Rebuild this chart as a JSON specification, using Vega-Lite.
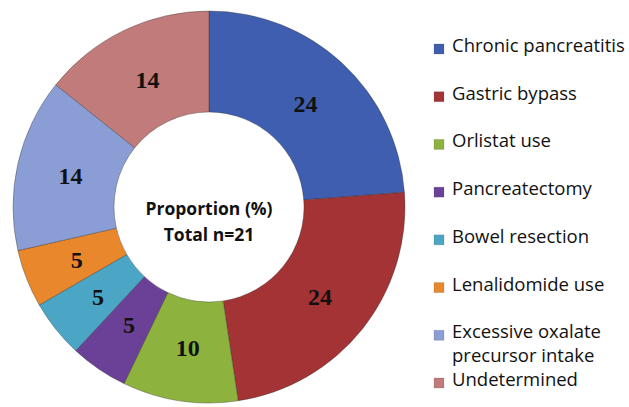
{
  "$schema": "https://vega.github.io/schema/vega-lite/v6.json",
  "padding": 0,
  "autosize": {"type": "pad"},
  "background": "white",
  "config": {"view": {"stroke": null}},
  "spacing": 11,
  "data": {
    "values": [
      {"o": 1, "cat": "Chronic pancreatitis", "legend": "Chronic pancreatitis", "n": 5, "pct": "24"},
      {"o": 2, "cat": "Gastric bypass", "legend": "Gastric bypass", "n": 5, "pct": "24"},
      {"o": 3, "cat": "Orlistat use", "legend": "Orlistat use", "n": 2, "pct": "10"},
      {"o": 4, "cat": "Pancreatectomy", "legend": "Pancreatectomy", "n": 1, "pct": "5"},
      {"o": 5, "cat": "Bowel resection", "legend": "Bowel resection", "n": 1, "pct": "5"},
      {"o": 6, "cat": "Lenalidomide use", "legend": "Lenalidomide use", "n": 1, "pct": "5"},
      {"o": 7, "cat": "Excessive oxalate precursor intake", "legend": "Excessive oxalate\nprecursor intake", "n": 3, "pct": "14"},
      {"o": 8, "cat": "Undetermined", "legend": "Undetermined", "n": 3, "pct": "14"}
    ]
  },
  "hconcat": [
    {
      "width": 418,
      "height": 414,
      "layer": [
        {
          "mark": {"type": "arc", "outerRadius": 196, "innerRadius": 95, "stroke": "#2a2a2a", "strokeOpacity": 0.35, "strokeWidth": 1},
          "encoding": {
            "theta": {"field": "n", "type": "quantitative", "stack": true},
            "order": {"field": "o", "type": "quantitative"},
            "color": {
              "field": "cat",
              "type": "nominal",
              "legend": null,
              "scale": {
                "domain": ["Chronic pancreatitis", "Gastric bypass", "Orlistat use", "Pancreatectomy", "Bowel resection", "Lenalidomide use", "Excessive oxalate precursor intake", "Undetermined"],
                "range": ["#3F5EB0", "#A33334", "#8DB23E", "#6B4198", "#4BA6C6", "#E8872C", "#8B9DD5", "#C07B7A"]
              }
            }
          }
        },
        {
          "mark": {"type": "text", "radius": 142, "font": "Liberation Serif", "fontWeight": "bold", "fontSize": 24, "color": "#111111", "baseline": "middle", "align": "center", "dy": 2},
          "encoding": {
            "theta": {"field": "n", "type": "quantitative", "stack": true},
            "order": {"field": "o", "type": "quantitative"},
            "text": {"field": "pct", "type": "nominal"}
          }
        },
        {
          "data": {"values": [{"t": "Proportion (%)\nTotal n=21"}]},
          "mark": {"type": "text", "lineBreak": "\n", "font": "Open Sans", "fontWeight": "bold", "fontSize": 17.5, "lineHeight": 26, "color": "#111111", "baseline": "middle", "align": "center", "dy": 3},
          "encoding": {"text": {"field": "t", "type": "nominal"}}
        }
      ]
    },
    {
      "width": 20,
      "height": 407,
      "layer": [
        {
          "mark": {"type": "point", "shape": "square", "filled": true, "size": 100, "opacity": 1, "stroke": "#555555", "strokeOpacity": 0.4, "strokeWidth": 0.5},
          "encoding": {
            "y": {"field": "cat", "type": "nominal", "axis": null, "sort": {"field": "o"}, "scale": {"range": [49, 383], "padding": 0}},
            "color": {"field": "cat", "type": "nominal", "legend": null}
          }
        },
        {
          "mark": {"type": "text", "align": "left", "baseline": "top", "dx": 13, "dy": -12, "font": "Open Sans", "fontSize": 18.5, "lineBreak": "\n", "lineHeight": 24, "color": "#111111"},
          "encoding": {
            "y": {"field": "cat", "type": "nominal", "axis": null, "sort": {"field": "o"}},
            "text": {"field": "legend", "type": "nominal"}
          }
        }
      ]
    }
  ],
  "resolve": {"scale": {"color": "shared"}}
}
